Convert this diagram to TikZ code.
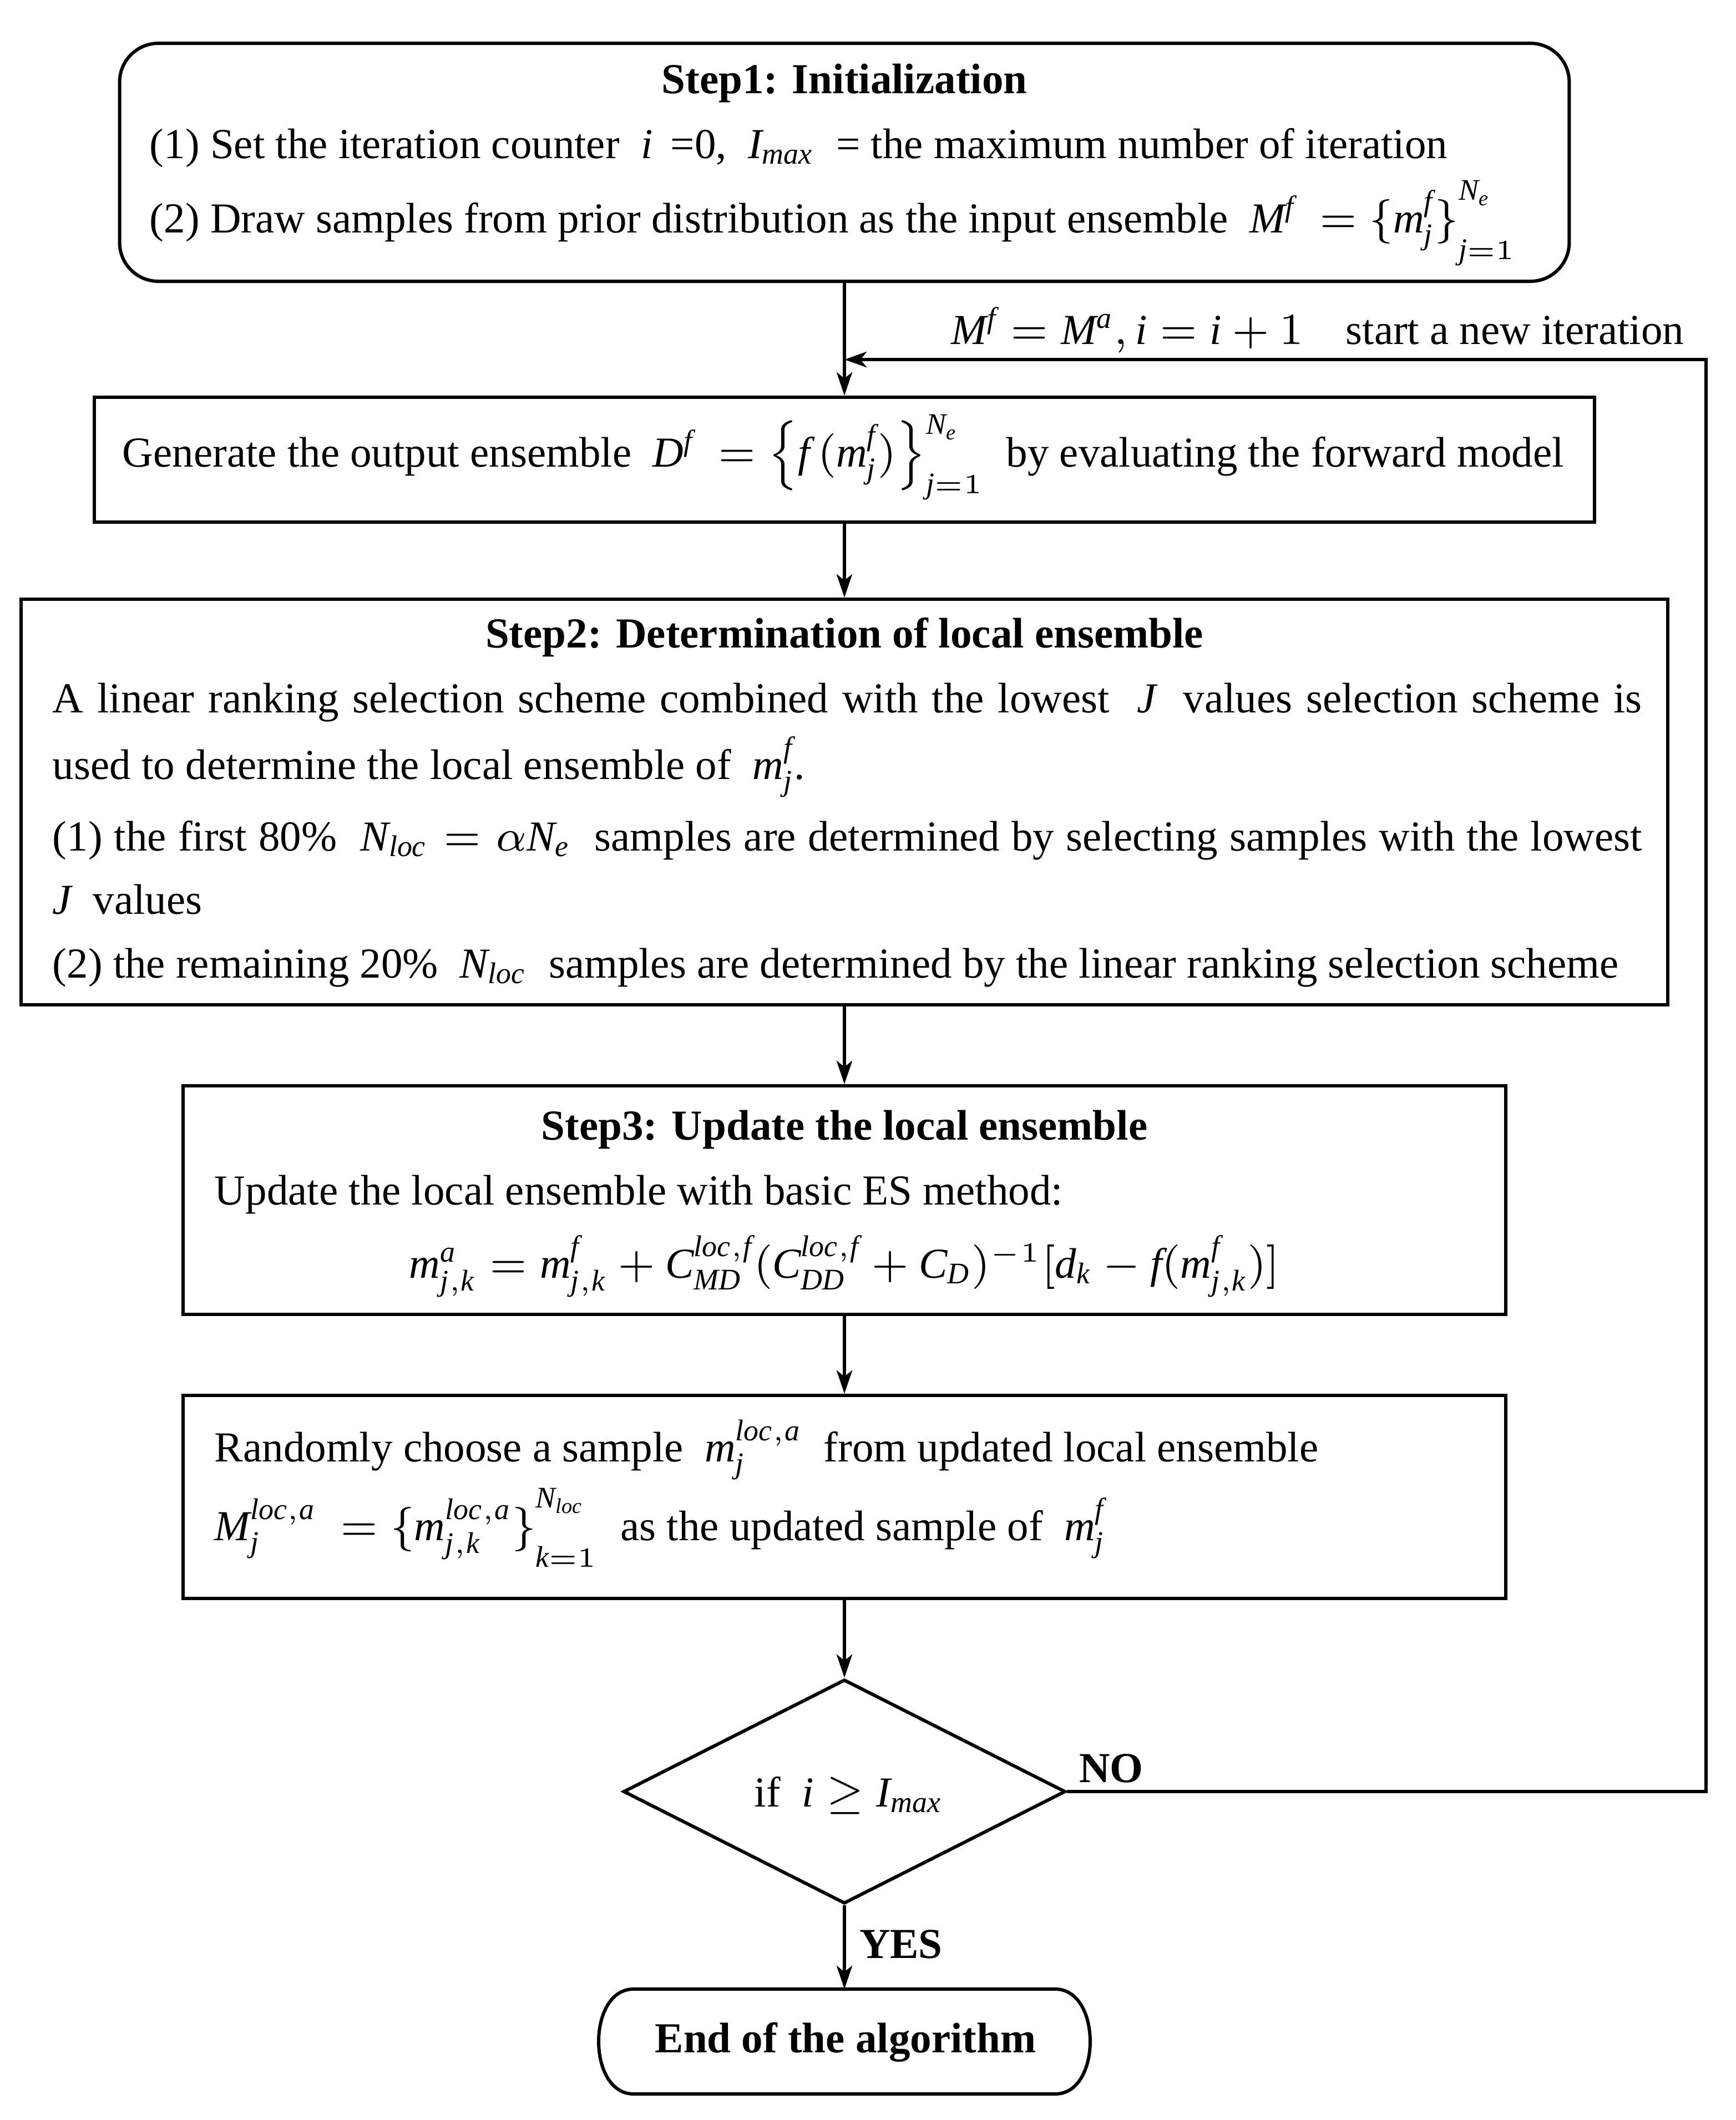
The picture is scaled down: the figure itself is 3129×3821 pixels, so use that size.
\documentclass[tikz,border=0pt]{standalone}
\usepackage{amsmath}
\usepackage{exscale}
\usepackage{fontspec}
\setmainfont{Liberation Serif}
\usetikzlibrary{shapes.geometric,arrows.meta}
\newcommand\vi[1]{\mathit{#1}}
\newcommand\tallscr{{\vphantom{\bigl\{}}}
\begin{document}
\begin{tikzpicture}[x=0.1pt, y=-0.1pt, font=\fontsize{7.7}{9.2}\selectfont,
  boxline/.style={draw, line width=0.6pt, inner sep=0pt},
  txt/.style={anchor=base west, inner sep=0pt},
  ctxt/.style={anchor=base, inner sep=0pt},
  bold/.style={font=\fontsize{7.7}{9.2}\selectfont\bfseries},
  arr/.style={line width=0.62pt, -{Stealth[length=4.2pt, width=2.8pt, inset=1.1pt]}},
  looparr/.style={line width=0.6pt, -{Stealth[length=4.0pt, width=2.8pt, inset=1.1pt]}}]
\useasboundingbox (0,0) rectangle (3129,3821);

% boxes
\node[boxline, rounded corners=7pt, minimum width=261.3pt, minimum height=42.9pt] (s1) at (1522,292.5) {};
\node[boxline, minimum width=270.5pt, minimum height=22.5pt] (gen) at (1522,828.5) {};
\node[boxline, minimum width=296.8pt, minimum height=73.1pt] (s2) at (1522,1445.5) {};
\node[boxline, minimum width=238.4pt, minimum height=41.2pt] (s3) at (1522,2163) {};
\node[boxline, minimum width=238.4pt, minimum height=36.6pt] (rnd) at (1522,2698) {};
\node[boxline, diamond, minimum width=79.7pt, minimum height=40.4pt] (dia) at (1522,3229) {};
\node[inner sep=0pt, minimum width=88.2pt, minimum height=18.5pt] (endn) at (1522,3679.5) {};
\draw[line width=0.6pt]
  ([xshift=6.3pt]endn.north west) -- ([xshift=-6.3pt]endn.north east)
  .. controls ([xshift=2.1pt]endn.north east) and ([xshift=2.1pt]endn.south east) .. ([xshift=-6.3pt]endn.south east)
  -- ([xshift=6.3pt]endn.south west)
  .. controls ([xshift=-2.1pt]endn.south west) and ([xshift=-2.1pt]endn.north west) .. ([xshift=6.3pt]endn.north west) -- cycle;

% step 1 text
\node[ctxt, bold] (s1t) at (1522,168) {Step1: Initialization};
\node[txt] (s1a) at (268,285) {(1) Set the iteration counter \ $\vi{i}$ \,=0, \ $\vi{I_{max}}$ \ = the maximum number of iteration};
\node[txt] (s1b) at (268,419) {(2) Draw samples from prior distribution as the input ensemble \ $\vi{M^f}\ =\{\vi{m_j^f}\}\tallscr_{\vi{j}=1}^{\vi{N_e}}$};

% generate text
\node[txt] (gent) at (219,841) {Generate the output ensemble \ $\vi{D^f}\ =\bigl\{\vi{f}\,(\vi{m_j^f})\bigr\}_{\vi{j}=1}^{\vi{N_e}}$ \ by evaluating the forward model};

% step 2 text
\node[ctxt, bold] (s2t) at (1522,1167) {Step2: Determination of local ensemble};
\node[txt] (s2a) at (93,1284) {\makebox[286.5pt][s]{A linear ranking selection scheme combined with the lowest \ $\vi{J}$ \ values selection scheme is}};
\node[txt] (s2b) at (93,1404) {used to determine the local ensemble of \ $\vi{m_j^f}$.};
\node[txt] (s2c) at (93,1533) {\makebox[286.5pt][s]{(1) the first 80\% \ $\vi{N_{loc}}=\alpha \vi{N_e}$ \ samples are determined by selecting samples with the lowest}};
\node[txt] (s2d) at (93,1647) {$\vi{J}$ \ values};
\node[txt] (s2e) at (93,1762) {(2) the remaining 20\% \ $\vi{N_{loc}}$ \ samples are determined by the linear ranking selection scheme};

% step 3 text
\node[ctxt, bold] (s3t) at (1522,2054) {Step3: Update the local ensemble};
\node[txt] (s3a) at (385,2171) {Update the local ensemble with basic ES method:};
\node[ctxt] (s3f) at (1522,2303) {$\vi{m_{j,k}^a} = \vi{m_{j,k}^f} + \vi{C_{MD}^{loc,f}}(\vi{C_{DD}^{loc,f}}+\vi{C_D})^{-1}[\vi{d_k} - \vi{f}(\vi{m_{j,k}^f})]$};

% random text
\node[txt] (rnda) at (385,2634) {Randomly choose a sample \ $\vi{m_j^{loc,a}}$ \ from updated local ensemble};
\node[txt] (rndb) at (385,2776) {$\vi{M_j^{loc,a}}\ =\{\vi{m_{j,k}^{loc,a}}\}\tallscr_{\vi{k}=1}^{\vi{N_{loc}}}$ \ as the updated sample of \ $\vi{m_j^f}$};

% decision and end text
\node[ctxt] (diat) at (1530,3256) {if \ $\vi{i}\geq \vi{I_{max}}$};
\node[ctxt, bold] (endt) at (1524,3699) {End of the algorithm};
\node[txt, bold] (nolbl) at (1943,3212) {NO};
\node[txt, bold] (yeslbl) at (1547,3529) {YES};
\node[anchor=base east, inner sep=0pt] (looplbl) at (3037,620) {$\vi{M^f} = \vi{M^a}, \vi{i} = \vi{i}+1$\quad start a new iteration};

% connectors
\coordinate (join) at (1522,648);
\coordinate (rt) at (3075,648);
\draw[arr] (s1.south) -- (gen.north);
\draw[looparr] (dia.east) -| (rt) -- (join);
\draw[arr] (gen.south) -- (s2.north);
\draw[arr] (s2.south) -- (s3.north);
\draw[arr] (s3.south) -- (rnd.north);
\draw[arr] (rnd.south) -- (dia.north);
\draw[arr] (dia.south) -- (endn.north);
\end{tikzpicture}
\end{document}
